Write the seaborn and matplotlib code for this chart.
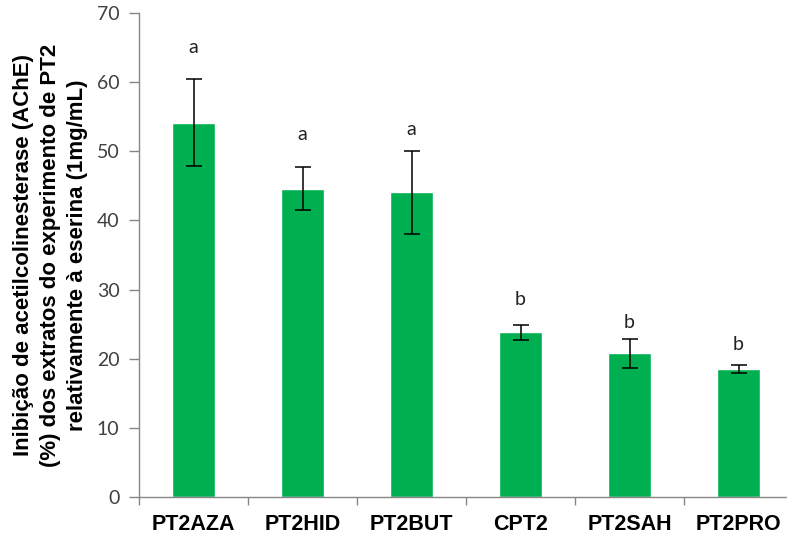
import matplotlib
matplotlib.use("Agg")
import matplotlib.pyplot as plt
import seaborn as sns
import pandas as pd
import numpy as np

# Inhibition of AChE by PT2 extracts (mean and standard deviation)
categories = ["PT2AZA", "PT2HID", "PT2BUT", "CPT2", "PT2SAH", "PT2PRO"]
inhibition = [54.1, 44.6, 44.1, 23.8, 20.8, 18.5]
std_dev = [6.3, 3.1, 6.0, 1.1, 2.1, 0.6]
groups = ["a", "a", "a", "b", "b", "b"]
group_label_y = [65.0, 52.4, 53.1, 28.5, 25.2, 22.1]

df = pd.DataFrame({"extrato": categories, "inibicao": inhibition})

sns.set_theme(style="white")
plt.rcParams["font.family"] = ["Liberation Sans", "DejaVu Sans"]

fig = plt.figure(figsize=(7.87, 5.35), dpi=100)
ax = fig.add_axes([139 / 787, 1 - 497 / 535, 654 / 787, (497 - 13) / 535])

sns.barplot(data=df, x="extrato", y="inibicao", order=categories,
            color="#00B050", saturation=1, width=0.4, ax=ax)
ax.errorbar(np.arange(len(categories)), inhibition, yerr=std_dev,
            fmt="none", ecolor="black", elinewidth=1.1, capsize=6, capthick=1.1)

for i, (g, y) in enumerate(zip(groups, group_label_y)):
    ax.text(i, y, g, ha="center", va="center", fontsize=14,
            family=["Lato", "DejaVu Sans"], color="#222222")

ax.set_xlim(-0.5, len(categories) - 0.5)
ax.set_ylim(0, 70)
ax.set_yticks(range(0, 71, 10))
ax.set_yticklabels([str(v) for v in range(0, 71, 10)],
                   family=["Lato", "DejaVu Sans"], fontsize=14, color="#404040")
ax.set_xticks(range(len(categories)))
ax.set_xticklabels(categories, fontsize=15.5, fontweight="bold", color="black")
ax.set_xticks(np.arange(-0.5, len(categories), 1.0), minor=True)
ax.tick_params(axis="x", which="major", length=0, pad=12)
ax.tick_params(axis="x", which="minor", length=6, width=1, color="#868686",
               direction="out", bottom=True)
ax.tick_params(axis="y", length=7, width=1, color="#868686", direction="out",
               left=True, pad=7)

for side in ["top", "right"]:
    ax.spines[side].set_visible(False)
for side in ["left", "bottom"]:
    ax.spines[side].set_color("#868686")
    ax.spines[side].set_linewidth(1)

ax.set_xlabel("")
ax.set_ylabel("Inibição de acetilcolinesterase (AChE)\n"
              "(%) dos extratos do experimento de PT2\n"
              "relativamente à eserina (1mg/mL)",
              fontsize=16, fontweight="bold", color="black", labelpad=6,
              linespacing=1.4)

fig.savefig("out.png", dpi=100)
